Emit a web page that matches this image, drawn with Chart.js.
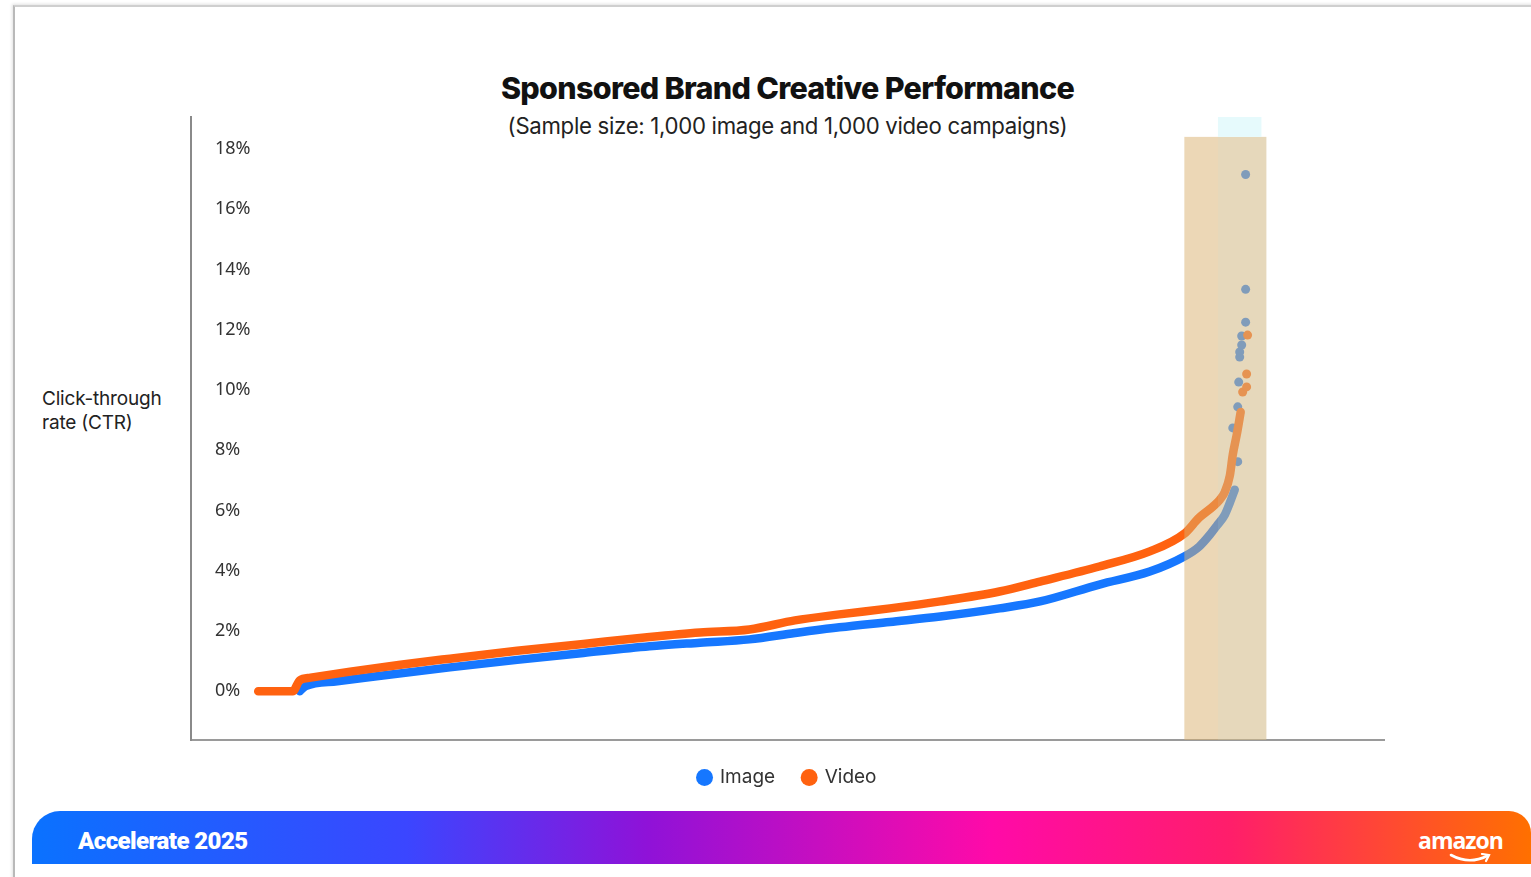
<!DOCTYPE html>
<html>
<head>
<meta charset="utf-8">
<script src="https://cdn.jsdelivr.net/npm/chart.js@4.4.1/dist/chart.umd.min.js"></script>
<style>
  body { margin: 0; width: 1531px; height: 877px; position: relative; background: #fff; overflow: hidden; font-family: Inter, "Noto Sans", sans-serif; }
  #frame { position: absolute; left: 13px; top: 5px; width: 1540px; height: 900px; border-left: 2px solid #b9b9b9; border-top: 2px solid #cfcfcf; box-shadow: -1px -1px 3px rgba(0,0,0,0.12); }
  #title { position: absolute; left: 191px; width: 1193px; top: 69px; text-align: center; font-family: Inter, sans-serif; font-weight: 800; font-size: 30.5px; letter-spacing: -0.7px; color: #111; }
  #subtitle { position: absolute; left: 191px; width: 1193px; top: 112px; text-align: center; font-size: 22.2px; letter-spacing: -0.3px; color: #222; }
  #ytitle { position: absolute; left: 42px; top: 387px; font-size: 19px; line-height: 24px; color: #222; letter-spacing: -0.2px; }
  #chart { position: absolute; left: 0; top: 0; }
  #footer { position: absolute; left: 32px; top: 811px; width: 1499px; height: 53px; border-radius: 28px 22px 0 0;
    background: linear-gradient(90deg, #0a72ff 0%, #3b46ff 25%, #8f12d8 41%, #ff0aa8 64%, #ff1e6a 80%, #ff7000 100%); }
  #accel { position: absolute; left: 46px; top: 16px; color: #fff; font-family: Roboto, sans-serif; font-weight: 900; font-size: 24px; letter-spacing: -0.6px; }
  #amazon { position: absolute; left: 1386px; top: 13px; color: #fff; font-family: "Open Sans", sans-serif; font-weight: 700; font-size: 23px; letter-spacing: -1px; }
  #smile { position: absolute; left: 1417px; top: 42px; }
</style>
</head>
<body>
<div id="frame"></div>
<div id="title">Sponsored Brand Creative Performance</div>
<div id="subtitle">(Sample size: 1,000 image and 1,000 video campaigns)</div>
<div id="ytitle">Click-through<br>rate (CTR)</div>
<canvas id="chart" width="1531" height="820"></canvas>
<div id="footer">
  <div id="accel">Accelerate 2025</div>
  <div id="amazon">amazon</div>
  <svg id="smile" width="44" height="12" viewBox="0 0 44 12"><path d="M2 2 Q20 12 38 3" stroke="#fff" stroke-width="2.6" fill="none" stroke-linecap="round"/><path d="M33 1 L40 2 L37 8" stroke="#fff" stroke-width="2.2" fill="none" stroke-linecap="round"/></svg>
</div>
<script>
// campaigns sorted by CTR (rank 0..1000), CTR in %
const imageRank = [42, 48, 80, 126, 194, 262, 329, 396, 447, 497, 543, 588, 639, 690, 750, 791, 851, 902, 937, 952, 963, 970, 978, 983, 988];
const imageCtr = [0.0, 0.17, 0.33, 0.52, 0.79, 1.04, 1.27, 1.49, 1.61, 1.72, 1.93, 2.12, 2.30, 2.48, 2.75, 2.98, 3.54, 3.97, 4.47, 4.80, 5.20, 5.50, 5.86, 6.25, 6.69];
const videoRank = [0, 35, 42, 53, 93, 144, 194, 262, 329, 396, 447, 497, 543, 588, 639, 690, 750, 791, 851, 902, 937, 952, 966, 973, 978, 983, 986, 990, 994];
const videoCtr = [0, 0, 0.36, 0.45, 0.65, 0.88, 1.08, 1.34, 1.57, 1.80, 1.95, 2.05, 2.35, 2.55, 2.75, 2.98, 3.31, 3.64, 4.14, 4.64, 5.23, 5.76, 6.13, 6.36, 6.62, 7.15, 7.85, 8.51, 9.27];

// top outliers drawn as loose dots
const imageTailRank = [986, 991, 991, 992, 993, 993, 995, 995, 999, 999, 999];
const imageTailCtr = [8.74, 7.62, 9.44, 10.26, 11.09, 11.26, 11.49, 11.79, 12.25, 13.34, 17.15];
const videoTailRank = [996, 1000, 1000, 1001];
const videoTailCtr = [9.93, 10.1, 10.53, 11.82];

const yTicks = [0, 2, 4, 6, 8, 10, 12, 14, 16, 18];

// shaded top band
const bandFrom = 937;
const bandTo = 1020;
const bandTop = 18.4;

const blue = '#1677ff';
const orange = '#ff6210';

function pts(xs, ys) {
    return xs.map((x, i) => ({ x: x, y: ys[i] }));
}

const bandPlugin = {
    id: 'band',
    afterDatasetsDraw(chart) {
        const ctx = chart.ctx;
        const xs = chart.scales.x;
        const ys = chart.scales.y;
        const left = xs.getPixelForValue(bandFrom);
        const right = xs.getPixelForValue(bandTo);
        const top = ys.getPixelForValue(bandTop);
        const bottom = chart.chartArea.bottom;
        const split = xs.getPixelForValue(971);
        const split2 = xs.getPixelForValue(1015);
        ctx.save();
        ctx.fillStyle = 'rgba(218,176,110,0.5)';
        ctx.fillRect(left, top, right - left, bottom - top);
        ctx.fillStyle = 'rgba(190,225,225,0.12)';
        ctx.fillRect(split, top, right - split, bottom - top);
        ctx.fillStyle = '#e6fafc';
        ctx.fillRect(split, chart.chartArea.top, split2 - split, top - chart.chartArea.top);
        ctx.restore();
    }
};

const ctx = document.getElementById('chart').getContext('2d');
const chart = new Chart(ctx, {
    type: 'line',
    data: {
        datasets: [{
            label: 'Image',
            data: pts(imageRank, imageCtr),
            borderColor: blue,
            backgroundColor: blue,
            borderWidth: 8.5,
            borderCapStyle: 'round',
            borderJoinStyle: 'round',
            cubicInterpolationMode: 'monotone',
            pointRadius: 0,
            order: 1
        }, {
            label: 'Video',
            data: pts(videoRank, videoCtr),
            borderColor: orange,
            backgroundColor: orange,
            borderWidth: 8.5,
            borderCapStyle: 'round',
            borderJoinStyle: 'round',
            cubicInterpolationMode: 'monotone',
            pointRadius: 0,
            order: 0
        }, {
            label: 'ImageTail',
            data: pts(imageTailRank, imageTailCtr),
            showLine: false,
            pointRadius: 4.5,
            pointBorderWidth: 0,
            pointBackgroundColor: blue,
            order: 3
        }, {
            label: 'VideoTail',
            data: pts(videoTailRank, videoTailCtr),
            showLine: false,
            pointRadius: 4.5,
            pointBorderWidth: 0,
            pointBackgroundColor: orange,
            order: 2
        }]
    },
    options: {
        responsive: false,
        animation: false,
        layout: { padding: { left: 191, right: 147, top: 117, bottom: 23 } },
        scales: {
            x: {
                type: 'linear',
                min: -68,
                max: 1139,
                grid: { display: false },
                ticks: { display: false },
                border: { display: true, color: '#9a9a9a', width: 2 },
                afterFit: s => { s.height = 0; }
            },
            y: {
                min: -1.62,
                max: 19.06,
                grid: { display: false },
                border: { display: true, color: '#8a8a8a', width: 2 },
                afterBuildTicks: s => { s.ticks = yTicks.map(v => ({ value: v })); },
                afterFit: s => { s.width = 0; },
                ticks: {
                    mirror: true,
                    padding: 24,
                    color: '#333',
                    font: { family: 'Noto Sans', size: 18 },
                    callback: v => v + '%'
                }
            }
        },
        plugins: {
            tooltip: { enabled: false },
            legend: {
                position: 'bottom',
                labels: {
                    usePointStyle: true,
                    pointStyle: 'circle',
                    boxWidth: 12,
                    boxHeight: 12,
                    padding: 28,
                    color: '#333',
                    font: { family: 'Inter', size: 19 },
                    filter: item => item.text === 'Image' || item.text === 'Video',
                    sort: (a, b) => a.datasetIndex - b.datasetIndex,
                    generateLabels: chart => Chart.defaults.plugins.legend.labels.generateLabels(chart).map(l => {
                        l.lineWidth = 0;
                        return l;
                    })
                }
            }
        }
    },
    plugins: [bandPlugin]
});
</script>
</body>
</html>
